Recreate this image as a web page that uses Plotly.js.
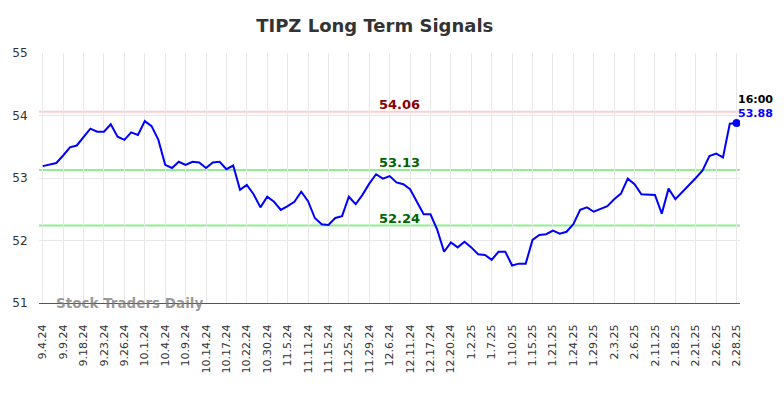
<!DOCTYPE html>
<html>
<head>
<meta charset="utf-8">
<script src="https://cdn.plot.ly/plotly-3.0.1.min.js"></script>
<style>html,body{margin:0;padding:0;background:#fff;}#chart{width:784px;height:398px;}</style>
</head>
<body>
<div id="chart"></div>
<script>
// Tick labels (one every 3 data points)
const tickLabels = ["9.4.24","9.9.24","9.18.24","9.23.24","9.26.24","10.1.24","10.4.24","10.9.24","10.14.24","10.17.24","10.22.24","10.30.24","11.5.24","11.11.24","11.15.24","11.25.24","11.29.24","12.6.24","12.11.24","12.17.24","12.20.24","1.2.25","1.7.25","1.10.25","1.15.25","1.21.25","1.24.25","1.29.25","2.3.25","2.6.25","2.11.25","2.18.25","2.21.25","2.26.25","2.28.25"];

// Closing prices
const prices = [
53.19,53.21,53.24,53.36,53.49,53.52,53.66,53.79,53.74,53.74,
53.86,53.66,53.61,53.73,53.69,53.91,53.83,53.61,53.21,53.16,
53.26,53.21,53.26,53.25,53.16,53.25,53.26,53.14,53.20,52.81,
52.89,52.74,52.53,52.70,52.62,52.49,52.55,52.62,52.78,52.63,
52.36,52.26,52.25,52.36,52.39,52.70,52.58,52.73,52.91,53.06,
52.99,53.03,52.93,52.90,52.82,52.62,52.42,52.42,52.17,51.82,
51.97,51.89,51.98,51.89,51.78,51.77,51.69,51.82,51.82,51.60,
51.63,51.63,52.01,52.09,52.10,52.16,52.11,52.14,52.26,52.49,
52.53,52.46,52.51,52.55,52.66,52.75,52.99,52.90,52.74,52.74,
52.73,52.43,52.83,52.66,52.77,52.88,53.00,53.12,53.35,53.39,
53.33,53.87,53.88];

const resistance = 54.06;
const supports = [53.13, 52.24];
const lastTime = "16:00";
const lastPrice = 53.88;

const xs = prices.map((_, i) => i);
const tickVals = tickLabels.map((_, i) => i * 3);
const lastIdx = prices.length - 1;

const traces = [
  {x: xs, y: prices, type: 'scatter', mode: 'lines', line: {color: '#0000ff', width: 2}, hoverinfo: 'skip'},
  {x: [lastIdx], y: [lastPrice], type: 'scatter', mode: 'markers', marker: {color: '#0000ff', size: 8}, hoverinfo: 'skip'}
];

const shapes = [
  {type: 'line', xref: 'paper', x0: 0, x1: 1, yref: 'y', y0: resistance, y1: resistance, line: {color: '#ffcccc', width: 2}, layer: 'below'}
].concat(supports.map(s => ({type: 'line', xref: 'paper', x0: 0, x1: 1, yref: 'y', y0: s, y1: s, line: {color: '#90ee90', width: 2}, layer: 'below'})));

const midX = 52.5;
const annotations = [
  {x: midX, y: resistance, xref: 'x', yref: 'y', text: resistance.toFixed(2), showarrow: false, yanchor: 'bottom', yshift: -2, font: {family: 'DejaVu Sans', size: 13, color: '#8b0000', weight: 'bold'}},
  {x: midX, y: supports[0], xref: 'x', yref: 'y', text: supports[0].toFixed(2), showarrow: false, yanchor: 'bottom', yshift: -2, font: {family: 'DejaVu Sans', size: 13, color: '#006400', weight: 'bold'}},
  {x: midX, y: supports[1], xref: 'x', yref: 'y', text: supports[1].toFixed(2), showarrow: false, yanchor: 'bottom', yshift: -2, font: {family: 'DejaVu Sans', size: 13, color: '#006400', weight: 'bold'}},
  {x: lastIdx, y: lastPrice, xref: 'x', yref: 'y', text: '<b>' + lastTime + '</b>', showarrow: false, xanchor: 'left', yanchor: 'middle', xshift: -1, yshift: 24, font: {family: 'DejaVu Sans', size: 11, color: '#000000'}},
  {x: lastIdx, y: lastPrice, xref: 'x', yref: 'y', text: '<b>' + lastPrice.toFixed(2) + '</b>', showarrow: false, xanchor: 'left', yanchor: 'middle', xshift: -1, yshift: 10, font: {family: 'DejaVu Sans', size: 11, color: '#0000ff'}},
  {x: 0.021, y: 0, xref: 'paper', yref: 'paper', text: '<b>Stock Traders Daily</b>', showarrow: false, xanchor: 'left', yanchor: 'middle', font: {family: 'DejaVu Sans', size: 13.5, color: 'rgba(120,120,120,0.75)'}}
];

const layout = {
  width: 784, height: 398,
  margin: {l: 39, r: 44, t: 53, b: 95},
  paper_bgcolor: '#ffffff', plot_bgcolor: '#ffffff',
  showlegend: false,
  title: {text: '<b>TIPZ Long Term Signals</b>', x: 0.478, xanchor: 'center', y: 0.935, yanchor: 'middle', font: {family: 'DejaVu Sans', size: 18, color: '#333333'}},
  xaxis: {
    range: [-0.55, 102.5], tickmode: 'array', tickvals: tickVals, ticktext: tickLabels, tickangle: -90,
    showgrid: true, gridcolor: '#e8e8e8', gridwidth: 1, zeroline: false,
    showline: true, linecolor: '#555555', linewidth: 1,
    ticks: 'outside', ticklen: 16, tickcolor: 'rgba(0,0,0,0)',
    tickfont: {family: 'DejaVu Sans', size: 11, color: '#333333'}
  },
  yaxis: {
    range: [51, 55], tickvals: [51, 52, 53, 54, 55], showgrid: true, gridcolor: '#e8e8e8', gridwidth: 1, zeroline: false,
    showline: false, ticks: 'outside', ticklen: 8, tickcolor: 'rgba(0,0,0,0)',
    tickfont: {family: 'DejaVu Sans', size: 12, color: '#333333'}
  },
  shapes: shapes,
  annotations: annotations
};

Plotly.newPlot('chart', traces, layout, {displayModeBar: false, staticPlot: true});
</script>
</body>
</html>
